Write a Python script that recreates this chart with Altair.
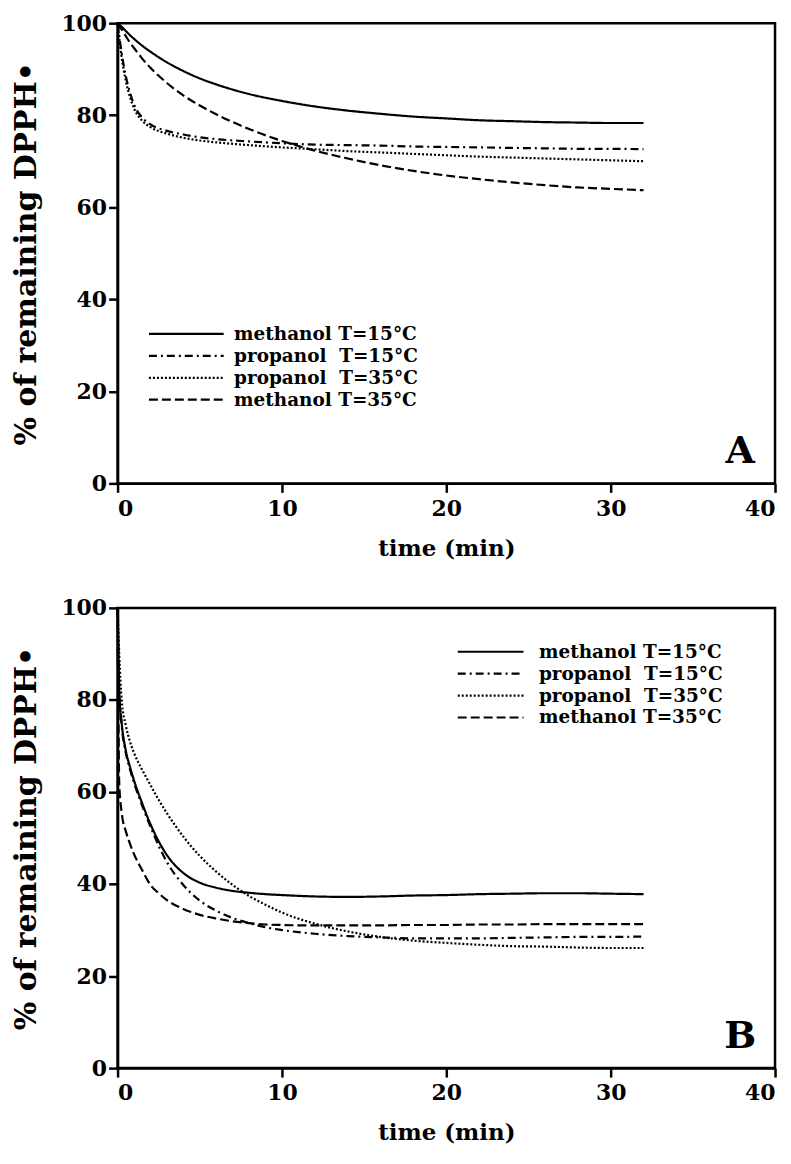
import altair as alt
import pandas as pd

# ---------------- data ----------------
SERIES = ["methanol T=15°C", "propanol\u00a0 T=15°C", "propanol\u00a0 T=35°C", "methanol T=35°C"]
DASHES = [[1, 0], [8, 4, 2, 4], [2, 2], [9, 4]]

# Panel A
T_A = [0, 0.25, 0.5, 0.75, 1, 1.5, 2, 3, 4, 5, 6, 8, 10, 12, 14, 16, 18, 20, 22, 24, 26, 28, 30, 32]
A_meth15 = [100, 99.2, 98.3, 97.4, 96.6, 95.1, 93.8, 91.5, 89.6, 88.0, 86.7, 84.6, 83.1, 81.9, 81.0, 80.3,
            79.7, 79.3, 78.9, 78.7, 78.5, 78.4, 78.3, 78.3]
A_prop15 = [100, 93.5, 88.5, 85.0, 82.3, 79.5, 78.0, 76.6, 75.8, 75.2, 74.8, 74.3, 73.9, 73.6, 73.5, 73.4,
            73.2, 73.1, 73.0, 72.9, 72.8, 72.7, 72.7, 72.6]
A_prop35 = [100, 92.5, 87.5, 84.0, 81.5, 78.8, 77.4, 76.0, 75.1, 74.5, 74.1, 73.5, 73.0, 72.6, 72.2, 71.9,
            71.6, 71.3, 71.0, 70.8, 70.6, 70.4, 70.2, 70.0]
A_meth35 = [100, 98.6, 97.2, 95.8, 94.6, 92.3, 90.3, 87.0, 84.3, 82.1, 80.2, 77.0, 74.4, 72.3, 70.6, 69.1,
            67.9, 66.9, 66.1, 65.4, 64.8, 64.3, 64.0, 63.7]

# Panel B
T_B = [0, 0.05, 0.1, 0.25, 0.5, 0.75, 1, 1.5, 2, 2.5, 3, 4, 5, 6, 7, 8, 9, 10, 12, 14, 16, 18, 20, 22, 24,
       26, 28, 30, 32]
B_meth15 = [100, 90, 82, 75, 69, 65.5, 62.5, 57.5, 53.0, 49.3, 46.3, 42.4, 40.3, 39.2, 38.5, 38.1, 37.8,
            37.6, 37.3, 37.2, 37.3, 37.5, 37.6, 37.8, 37.9, 38.0, 38.0, 37.9, 37.8]
B_prop15 = [100, 90, 82, 74.5, 68.5, 65, 62, 57, 52.5, 48.3, 44.8, 39.8, 36.4, 34.2, 32.6, 31.5, 30.6,
            30.0, 29.2, 28.7, 28.4, 28.2, 28.2, 28.2, 28.3, 28.4, 28.5, 28.5, 28.6]
B_prop35 = [100, 95, 90, 80, 74.5, 71, 68.5, 64.8, 61.5, 58.3, 55.4, 50.3, 46.1, 42.7, 39.8, 37.4, 35.5,
            33.8, 31.4, 29.7, 28.5, 27.7, 27.2, 26.8, 26.5, 26.4, 26.2, 26.1, 26.1]
B_meth35 = [100, 78, 62, 55.5, 51.5, 48.8, 46.5, 43, 39.8, 38.0, 36.5, 34.6, 33.3, 32.5, 31.9, 31.5, 31.2,
            31.1, 31.0, 31.0, 31.0, 31.1, 31.1, 31.2, 31.2, 31.3, 31.3, 31.3, 31.3]

X_TICKS = [0, 10, 20, 30, 40]
Y_TICKS = [0, 20, 40, 60, 80, 100]

FONT = "DejaVu Serif"
W, H = 660, 462


def panel(times, series_vals, letter, lx, ly, sym_w, lab_off):
    rows = []
    for name, vals in zip(SERIES, series_vals):
        for t, v in zip(times, vals):
            rows.append({"time": t, "pct": v, "series": name})
    df = pd.DataFrame(rows)

    lines = alt.Chart(df).mark_line(color="black", strokeWidth=2.2, interpolate="monotone").encode(
        x=alt.X("time:Q", scale=alt.Scale(domain=[0, 40], nice=False),
                axis=alt.Axis(values=X_TICKS, title="time (min)", labelPadding=6,
                              titlePadding=18, titleFontSize=23)),
        y=alt.Y("pct:Q", scale=alt.Scale(domain=[0, 100], nice=False),
                axis=alt.Axis(values=Y_TICKS, title="% of remaining DPPH\u2022", labelPadding=2,
                              titlePadding=19, titleFontSize=30)),
        strokeDash=alt.StrokeDash(
            "series:N",
            scale=alt.Scale(domain=SERIES, range=DASHES),
            legend=alt.Legend(orient="none", legendX=lx, legendY=ly, title=None,
                              symbolType="stroke", symbolSize=sym_w * sym_w,
                              symbolStrokeWidth=2.2, symbolStrokeColor="black",
                              labelFont=FONT, labelFontSize=18.5, labelFontWeight="bold",
                              labelColor="black", labelLimit=0, clipHeight=22,
                              rowPadding=0, labelOffset=lab_off),
        ),
    )

    label = alt.Chart(pd.DataFrame({"letter": [letter]})).mark_text(
        font=FONT, fontSize=38, fontWeight="bold", color="black",
        align="center", baseline="alphabetic"
    ).encode(text="letter:N", x=alt.value(625), y=alt.value(H - 20))

    return alt.layer(lines, label).properties(width=W, height=H)


chart_a = panel(T_A, [A_meth15, A_prop15, A_prop35, A_meth35], "A", 30, 301, 75, 9)
chart_b = panel(T_B, [B_meth15, B_prop15, B_prop35, B_meth35], "B", 340, 33, 66, 14)

chart = alt.vconcat(chart_a, chart_b, spacing=33).resolve_scale(
    strokeDash="independent"
).resolve_legend(
    strokeDash="independent"
).properties(
    padding={"left": 2, "top": 0, "right": 5, "bottom": 5}
).configure_axis(
    domainColor="black", domainWidth=2.5, tickColor="black", tickWidth=2.5, tickSize=9,
    labelFont=FONT, labelFontSize=22, labelFontWeight="bold", labelColor="black",
    titleFont=FONT, titleFontWeight="bold", titleColor="black", grid=False,
).configure_view(stroke="black", strokeWidth=2.5)

chart.save("out.html", embed_options={"renderer": "svg", "actions": False})
